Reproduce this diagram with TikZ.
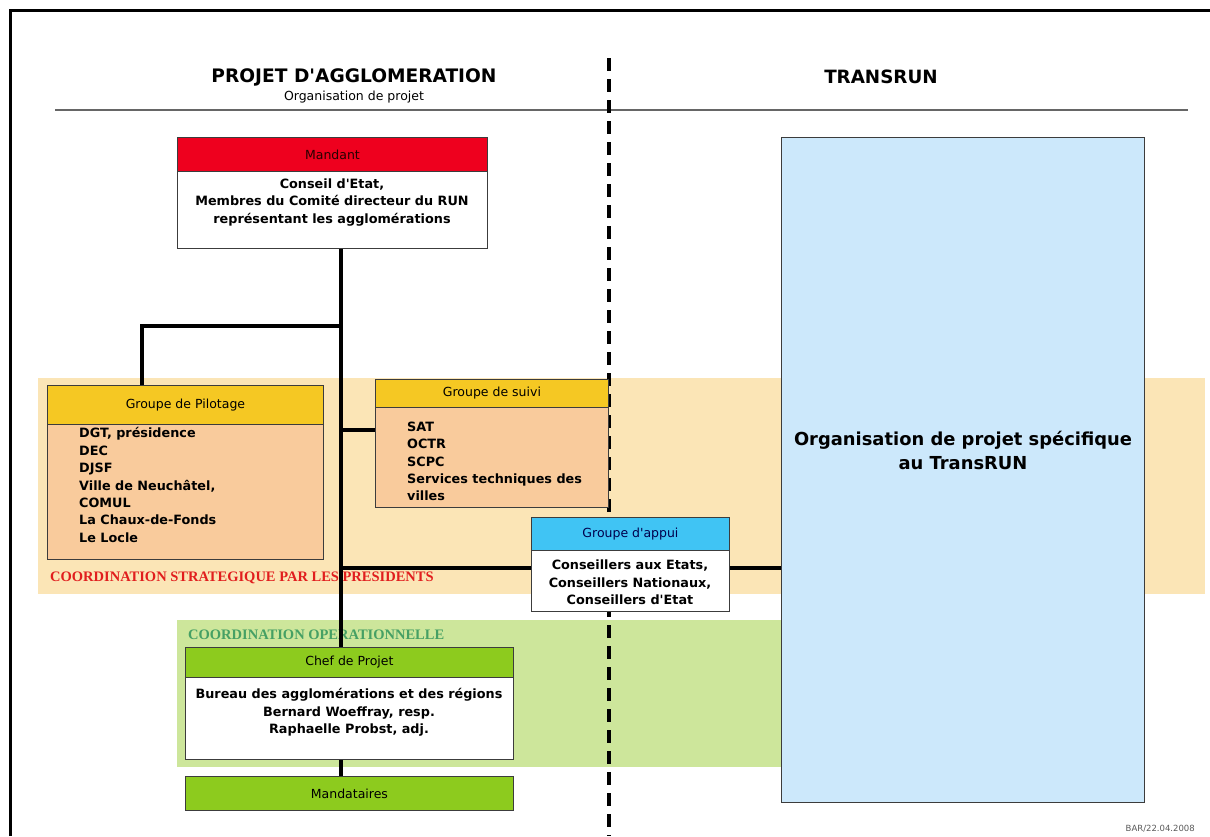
\documentclass[tikz,border=0pt]{standalone}
\usepackage{fontspec}
\setmainfont{DejaVu Sans}
\newfontfamily\serifbold{Liberation Serif}
\definecolor{hred}{RGB}{238,0,30}
\definecolor{hyellow}{RGB}{245,200,35}
\definecolor{peach}{RGB}{249,203,156}
\definecolor{oband}{RGB}{251,229,182}
\definecolor{gband}{RGB}{205,230,155}
\definecolor{hgreen}{RGB}{141,203,30}
\definecolor{hblue}{RGB}{64,196,244}
\definecolor{lblue}{RGB}{204,232,251}
\definecolor{redtxt}{RGB}{225,30,30}
\definecolor{greentxt}{RGB}{70,160,100}
\definecolor{edge}{RGB}{60,60,60}
\newcommand\bodyfont{\fontsize{12.8}{17.4}\selectfont\bfseries}
\newcommand\headfont{\fontsize{12.5}{15}\selectfont}
\newcommand\q{\textquotesingle}
\tikzset{
  box/.style={draw=edge, line width=0.9pt, anchor=north west, inner sep=0pt},
  txt/.style={inner sep=0pt, font=\bodyfont},
  htxt/.style={inner sep=0pt, font=\headfont},
  link/.style={line width=3.5pt},
  bandlabel/.style={inner sep=0pt, anchor=west, font=\serifbold\fontsize{14.5}{16}\selectfont\bfseries},
}
\begin{document}
\begin{tikzpicture}[x=1pt,y=-1pt]
\useasboundingbox (0,0) rectangle (1210,836);
% frame
\draw[line width=3pt] (10,836) -- (10,10) -- (1212,10);
% titles
\node[inner sep=0pt, font=\fontsize{18.6}{22}\selectfont\bfseries] (t1) at (354,77) {PROJET D\q AGGLOMERATION};
\node[inner sep=0pt, font=\fontsize{12.5}{14}\selectfont] (t1b) at (354,97) {Organisation de projet};
\node[inner sep=0pt, font=\fontsize{18.3}{22}\selectfont\bfseries] (t2) at (881,77) {TRANSRUN};
\draw[line width=1.3pt, gray!80!black] (55,110) -- (1188,110);
% bands
\fill[oband] (38,378) rectangle (1205,594);
\fill[gband] (177,620) rectangle (783,767);
% band labels
\node[bandlabel, text=redtxt] (lstrat) at (50,578) {COORDINATION STRATEGIQUE PAR LES PRESIDENTS};
\node[bandlabel, text=greentxt] (loper) at (188,635) {COORDINATION OPERATIONNELLE};
% dashed separator
\coordinate (sepA) at (609,58);
\coordinate (sepB) at (609,836);
\draw[line width=3.2pt, dash pattern=on 13pt off 8pt] (sepA) -- (sepB);
% TransRUN box
\node[box, fill=lblue, minimum width=363pt, minimum height=665pt] (trans) at (781,137) {};
\node[inner sep=0pt, align=center, font=\fontsize{17.9}{24}\selectfont\bfseries] (transtxt) at (963,450) {Organisation de projet spécifique\\au TransRUN};
% connectors
\coordinate (tk) at (341,0);
\coordinate (j1) at (341,326);
\coordinate (pk) at (142,326);
\coordinate (j2) at (341,430);
\coordinate (j3) at (341,568);
% Mandant
\node[box, fill=hred, minimum width=310pt, minimum height=34pt] (mandh) at (177,137) {};
\node[box, fill=white, minimum width=310pt, minimum height=77pt] (mandb) at (177,171) {};
% Pilotage
\node[box, fill=hyellow, minimum width=276pt, minimum height=39pt] (pilh) at (47,385) {};
\node[box, fill=peach, minimum width=276pt, minimum height=135pt] (pilb) at (47,424) {};
% Suivi
\node[box, fill=hyellow, minimum width=233pt, minimum height=28pt] (suih) at (375,379) {};
\node[box, fill=peach, minimum width=233pt, minimum height=100pt] (suib) at (375,407) {};
% Chef
\node[box, fill=hgreen, minimum width=328pt, minimum height=30pt] (chefh) at (185,647) {};
\node[box, fill=white, minimum width=328pt, minimum height=82pt] (chefb) at (185,677) {};
% Mandataires
\node[box, fill=hgreen, minimum width=328pt, minimum height=34pt] (mtaires) at (185,776) {};
% links
\draw[link] (mandb.south -| tk) -- (chefh.north -| tk);
\draw[link] (j1) -- (pk) -- (pk |- pilh.north);
\draw[link] (j2) -- (suib.west |- j2);
\draw[link] (chefb.south -| tk) -- (mtaires.north -| tk);
% Appui
\node[box, fill=hblue, minimum width=198pt, minimum height=33pt] (apph) at (531,517) {};
\node[box, fill=white, minimum width=198pt, minimum height=61pt] (appb) at (531,550) {};
\draw[link] (j3) -- (appb.west |- j3);
\draw[link] (appb.east |- j3) -- (trans.west |- j3);
% header texts
\node[htxt, text=black!85!red] (mandht) at (mandh.center) {Mandant};
\node[htxt] (pilht) at (pilh.center) {Groupe de Pilotage};
\node[htxt] (suiht) at (suih.center) {Groupe de suivi};
\node[htxt, text=black!70!blue] (appht) at (apph.center) {Groupe d\q appui};
\node[htxt] (chefht) at (chefh.center) {Chef de Projet};
\node[htxt] (mtairest) at (mtaires.center) {Mandataires};
% body texts
\node[txt, align=center] (mandt) at (332,202.5) {Conseil d\q Etat,\\Membres du Comité directeur du RUN\\représentant les agglomérations};
\node[txt, align=left, anchor=west] (pilt) at (79,485) {DGT, présidence\\DEC\\DJSF\\Ville de Neuchâtel,\\COMUL\\La Chaux-de-Fonds\\Le Locle};
\node[txt, align=left, anchor=west] (suit) at (407,461.5) {SAT\\OCTR\\SCPC\\Services techniques des\\villes};
\node[txt, align=center] (appt) at (630,582.5) {Conseillers aux Etats,\\Conseillers Nationaux,\\Conseillers d\q Etat};
\node[txt, align=center] (cheft) at (349,712.5) {Bureau des agglomérations et des régions\\Bernard Woeffray, resp.\\Raphaelle Probst, adj.};
% footer
\node[inner sep=0pt, anchor=east, text=gray!70!black, font=\fontsize{8.5}{10}\selectfont] (foot) at (1195,829) {BAR/22.04.2008};
\end{tikzpicture}
\end{document}
